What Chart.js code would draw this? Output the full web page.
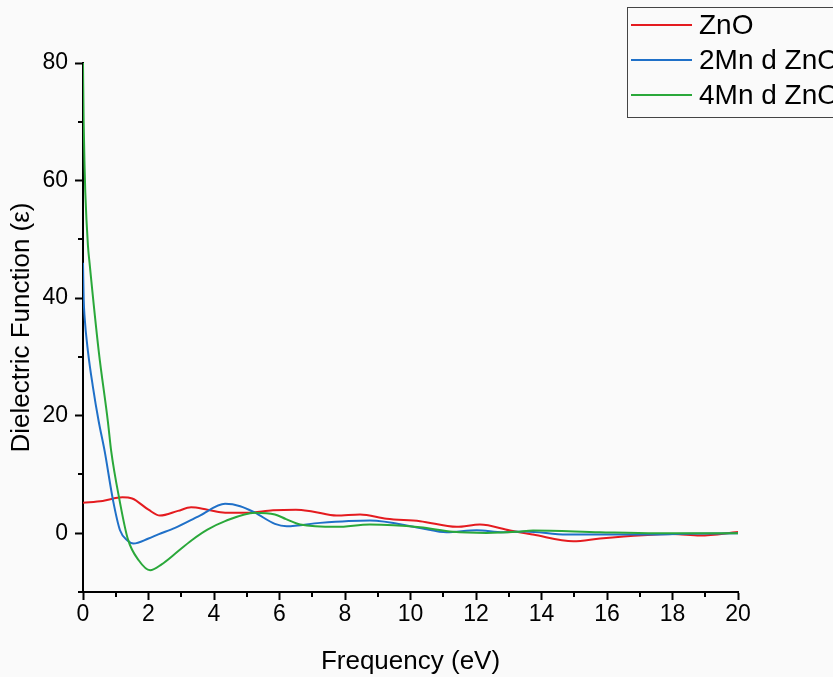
<!DOCTYPE html>
<html>
<head>
<meta charset="utf-8">
<script src="https://cdn.jsdelivr.net/npm/chart.js@4.4.0/dist/chart.umd.min.js"></script>
<style>
  html, body { margin: 0; padding: 0; background: #fafafa; }
</style>
</head>
<body>
<canvas id="grafico" width="833" height="677"></canvas>
<script>
// curvas da função dielétrica (parte real) x energia
const energiaZnO = [0, 0.6, 1.2, 1.5, 2.0, 2.35, 2.9, 3.3, 3.8, 4.34, 5.0, 5.8, 6.5, 7.0, 7.74, 8.46, 9.27, 10.29, 11.41, 12.12, 13.04, 13.74, 14.97, 15.79, 17.1, 18.0, 18.84, 20];
const epsZnO     = [5.2, 5.5, 6.1, 5.9, 4.0, 3.0, 3.8, 4.4, 4.0, 3.5, 3.5, 3.9, 4.0, 3.7, 3.0, 3.2, 2.45, 2.05, 1.08, 1.48, 0.46, -0.23, -1.37, -0.9, -0.34, -0.15, -0.4, 0.2];

const energia2Mn = [0, 0.02, 0.05, 0.15, 0.3, 0.48, 0.66, 0.92, 1.13, 1.35, 1.54, 2.0, 2.3, 2.81, 3.57, 4.34, 4.8, 5.25, 5.86, 6.22, 7.24, 8.76, 10.29, 11.1, 12.02, 12.83, 13.5, 14.77, 16.8, 18.5, 20];
const eps2Mn     = [46, 40, 36.7, 31, 25, 19, 14, 5.5, 0.5, -1.2, -1.76, -0.9, -0.2, 0.9, 3.0, 5.0, 4.6, 3.5, 1.6, 1.2, 1.76, 2.16, 0.9, 0.17, 0.5, 0.17, 0.3, -0.23, -0.23, -0.1, 0];

const energia4Mn = [0, 0.02, 0.05, 0.07, 0.15, 0.2, 0.48, 0.76, 0.86, 1.12, 1.37, 1.7, 2.05, 2.4, 2.81, 3.32, 3.8, 4.34, 5.25, 5.86, 6.2, 6.63, 7.74, 8.76, 10.29, 11.3, 12.32, 13.24, 13.74, 15.79, 17.5, 20];
const eps4Mn     = [80, 70, 62, 58, 49, 46, 31, 19, 14, 5.5, -1.0, -4.6, -6.3, -5.3, -3.5, -1.2, 0.6, 2.05, 3.5, 3.2, 2.4, 1.48, 1.08, 1.48, 1.02, 0.23, 0.05, 0.23, 0.46, 0.17, 0, 0];

const nomes = ["ZnO", "2Mn d ZnO", "4Mn d ZnO"];
const cores = ["#e41b1f", "#1f70c8", "#2aa83a"];

const ticksX = [0, 2, 4, 6, 8, 10, 12, 14, 16, 18, 20];
const ticksY = [0, 20, 40, 60, 80];
const menoresX = [1, 3, 5, 7, 9, 11, 13, 15, 17, 19];
const menoresY = [-10, 10, 30, 50, 70];

const fonte = '"Liberation Sans", Arial, sans-serif';

function pontos(xs, ys) {
  return xs.map((x, i) => ({ x: x, y: ys[i] }));
}

// fundo, ticks menores e legenda desenhados à mão
const extras = {
  id: "extras",
  beforeDraw(chart) {
    const ctx = chart.ctx;
    ctx.save();
    ctx.fillStyle = "#fafafa";
    ctx.fillRect(0, 0, chart.width, chart.height);
    ctx.restore();
  },
  afterDraw(chart) {
    const ctx = chart.ctx;
    const sx = chart.scales.x, sy = chart.scales.y;
    const area = chart.chartArea;
    ctx.save();
    ctx.strokeStyle = "#000";
    ctx.lineWidth = 2;
    ctx.beginPath();
    menoresX.forEach(v => {
      const px = Math.round(sx.getPixelForValue(v));
      ctx.moveTo(px, area.bottom);
      ctx.lineTo(px, area.bottom + 5);
    });
    menoresY.forEach(v => {
      const py = Math.round(sy.getPixelForValue(v));
      ctx.moveTo(area.left, py);
      ctx.lineTo(area.left - 5, py);
    });
    ctx.stroke();

    // legenda (o texto passa da borda direita e é cortado)
    ctx.lineWidth = 1;
    ctx.strokeStyle = "#444";
    ctx.fillStyle = "#fafafa";
    ctx.fillRect(627, 7, 220, 110);
    ctx.strokeRect(627.5, 7.5, 220, 110);
    const linhas = [25, 60, 95];
    ctx.font = "28px " + fonte;
    ctx.textBaseline = "middle";
    chart.data.datasets.forEach((ds, i) => {
      ctx.strokeStyle = ds.borderColor;
      ctx.lineWidth = 2;
      ctx.beginPath();
      ctx.moveTo(631, linhas[i]);
      ctx.lineTo(692, linhas[i]);
      ctx.stroke();
      ctx.fillStyle = "#000";
      ctx.fillText(ds.label, 699, linhas[i] + 1);
    });
    ctx.restore();
  }
};

const series = [pontos(energiaZnO, epsZnO), pontos(energia2Mn, eps2Mn), pontos(energia4Mn, eps4Mn)];

const chart = new Chart(document.getElementById("grafico").getContext("2d"), {
  type: "line",
  data: {
    datasets: series.map((dados, i) => ({
      label: nomes[i],
      data: dados,
      borderColor: cores[i],
      backgroundColor: cores[i],
      borderWidth: 2,
      pointRadius: 0,
      fill: false,
      cubicInterpolationMode: "monotone",
      order: 2 - i
    }))
  },
  options: {
    responsive: false,
    animation: false,
    layout: { padding: { left: 0, top: 63, right: 95, bottom: 0 } },
    plugins: {
      legend: { display: false },
      tooltip: { enabled: false }
    },
    scales: {
      x: {
        type: "linear",
        min: 0,
        max: 20,
        afterBuildTicks: s => { s.ticks = ticksX.map(v => ({ value: v })); },
        afterFit: s => { s.height = 85; },
        border: { color: "#000", width: 2 },
        grid: { drawOnChartArea: false, drawTicks: true, tickLength: 8, tickWidth: 2, tickColor: "#000" },
        ticks: { color: "#000", font: { family: fonte, size: 23 }, padding: 1, maxRotation: 0 },
        title: { display: true, text: "Frequency (eV)", color: "#000", font: { family: fonte, size: 26 }, padding: { top: 0, bottom: 0 } }
      },
      y: {
        type: "linear",
        min: -10,
        max: 80,
        afterBuildTicks: s => { s.ticks = ticksY.map(v => ({ value: v })); },
        afterFit: s => { s.width = 83; },
        border: { color: "#000", width: 2 },
        grid: { drawOnChartArea: false, drawTicks: true, tickLength: 8, tickWidth: 2, tickColor: "#000" },
        ticks: { color: "#000", font: { family: fonte, size: 23 }, padding: 7 },
        title: { display: true, text: "Dielectric Function (ε)", color: "#000", font: { family: fonte, size: 26 }, padding: { top: 6, bottom: 0 } }
      }
    }
  },
  plugins: [extras]
});
</script>
</body>
</html>
